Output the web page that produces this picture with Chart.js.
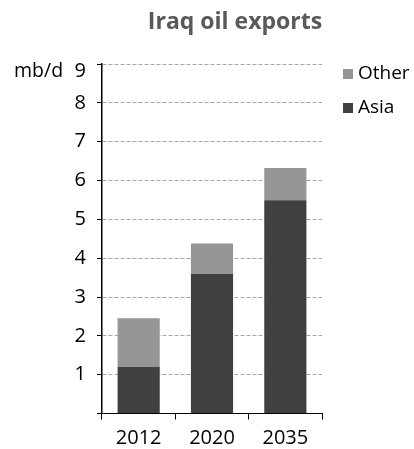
<!DOCTYPE html>
<html>
<head>
<meta charset="utf-8">
<script src="https://cdn.jsdelivr.net/npm/chart.js@4"></script>
<style>
html,body{margin:0;padding:0;background:#fff;}
#wrap{position:relative;width:414px;height:449px;}
</style>
</head>
<body>
<div id="wrap"><canvas id="c" width="414" height="449"></canvas></div>
<script>
const chartTitle = 'Iraq oil exports';
const unitLabel = 'mb/d';
const categories = ['2012', '2020', '2035'];
const asiaValues = [1.2, 3.59, 5.49];
const otherValues = [1.25, 0.79, 0.83];
const seriesNames = ['Asia', 'Other'];
const yTicks = [0, 1, 2, 3, 4, 5, 6, 7, 8, 9];

const FONT = '"Open Sans", "DejaVu Sans", sans-serif';
const TOP = yTicks[yTicks.length - 1];

const annotate = {
  id: 'annotate',
  afterDraw(chart) {
    const ctx = chart.ctx;
    const y = chart.scales.y;
    ctx.save();
    // title
    ctx.font = 'bold 23px ' + FONT;
    ctx.fillStyle = '#595959';
    ctx.textAlign = 'center';
    ctx.textBaseline = 'middle';
    ctx.fillText(chartTitle, 235, 22);
    // unit label (aligned with the top tick label, which sits slightly below its line)
    ctx.font = '19.5px ' + FONT;
    ctx.fillStyle = '#000';
    ctx.textAlign = 'left';
    ctx.fillText(unitLabel, 14, y.getPixelForValue(TOP) + 7);
    // legend (reverse order)
    const ds = chart.data.datasets.slice().reverse();
    ds.forEach((d, i) => {
      const cy = 74 + i * 34;
      ctx.fillStyle = d.backgroundColor;
      ctx.fillRect(343, cy - 5, 10, 10);
      ctx.fillStyle = '#000';
      ctx.font = '19px ' + FONT;
      ctx.textAlign = 'left';
      ctx.textBaseline = 'middle';
      ctx.fillText(d.label, 358, cy);
    });
    ctx.restore();
  }
};

new Chart(document.getElementById('c'), {
  type: 'bar',
  data: {
    labels: categories,
    datasets: [
      { label: seriesNames[0], data: asiaValues, backgroundColor: '#404040', borderWidth: 0 },
      { label: seriesNames[1], data: otherValues, backgroundColor: '#969696', borderWidth: 0 }
    ]
  },
  options: {
    responsive: false,
    animation: false,
    devicePixelRatio: 1,
    layout: { padding: { left: 0, right: 92, top: 64, bottom: 0 } },
    plugins: {
      legend: { display: false },
      title: { display: false },
      tooltip: { enabled: false }
    },
    datasets: { bar: { categoryPercentage: 1, barPercentage: 0.575 } },
    scales: {
      x: {
        stacked: true,
        grid: { display: true, drawOnChartArea: false, drawTicks: true, tickLength: 6, offset: true, color: '#000', tickColor: '#000' },
        border: { display: true, color: '#000', width: 1 },
        ticks: { color: '#000', font: { family: FONT, size: 20 }, padding: 7, maxRotation: 0 },
        afterFit(s) { s.height = 35.5; }
      },
      y: {
        stacked: true,
        min: yTicks[0],
        max: TOP,
        afterBuildTicks(s) { s.ticks = yTicks.map(v => ({ value: v })); },
        grid: { color: '#a6a6a6', lineWidth: 1, tickColor: '#000', tickLength: 5, drawTicks: true },
        border: { display: true, color: '#000', width: 1.5, dash: [4, 2] },
        ticks: {
          color: '#000',
          font: (c) => ({ family: FONT, size: 20, lineHeight: (c.tick && c.tick.value === TOP) ? '15px' : 1.2 }),
          padding: 11,
          callback: (v) => (v === 0 ? '' : (v === TOP ? ['', String(v)] : String(v)))
        },
        afterFit(s) { s.width = 102; }
      }
    }
  },
  plugins: [annotate]
});
</script>
</body>
</html>
